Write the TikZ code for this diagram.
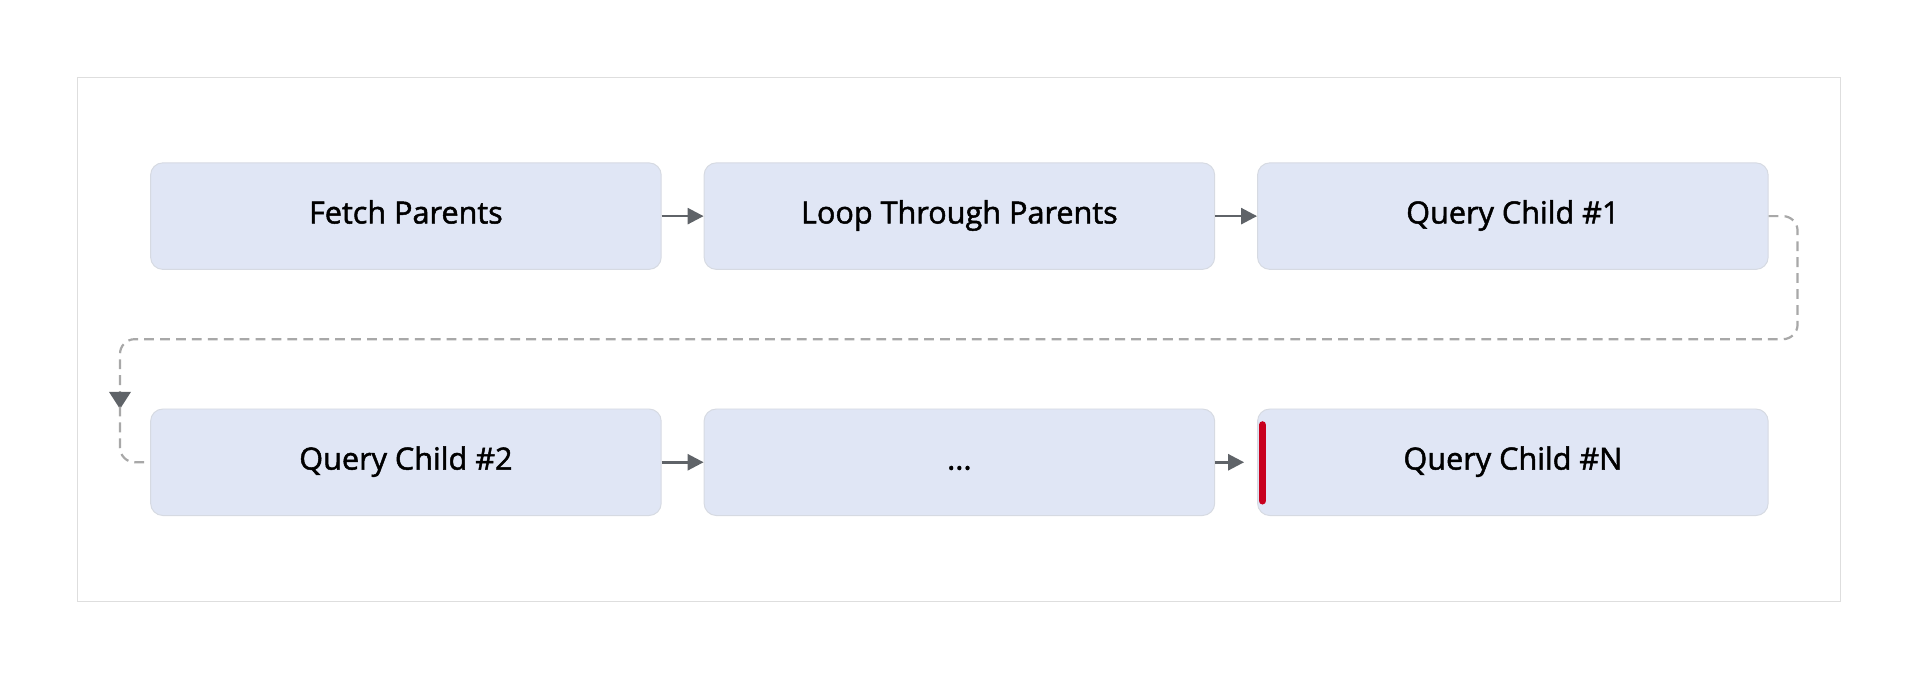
\documentclass[tikz,border=0pt]{standalone}
\usepackage{fontspec}
\setmainfont{Open Sans}[FakeBold=1.6]
\usetikzlibrary{arrows.meta}
\definecolor{boxfill}{HTML}{E0E6F5}
\definecolor{boxline}{HTML}{D6DAE2}
\definecolor{arr}{HTML}{5F6368}
\definecolor{dash}{HTML}{A8A8A8}
\definecolor{redbar}{HTML}{C8001E}
\begin{document}
\begin{tikzpicture}[x=1pt,y=-1pt,
  box/.style={draw=boxline,line width=0.8pt,fill=boxfill,rounded corners=10pt,minimum width=417pt,minimum height=87pt,font=\fontsize{25}{28}\selectfont,text=black,text height=17pt,text depth=5pt},
  link/.style={draw=arr,line width=2.2pt,-{Triangle[length=13pt,width=13pt]}},
  dlink/.style={draw=dash,line width=1.8pt,dash pattern=on 8pt off 5pt,rounded corners=12pt}]
\useasboundingbox (0,0) rectangle (1568,555.3);
\draw[draw=black!13,line width=1pt] (63,63) rectangle (1503,491);
\node[box] (a) at (331.5,176.5) {Fetch Parents};
\node[box] (b) at (783.5,176.5) {Loop Through Parents};
\node[box] (c) at (1235.5,176.5) {Query Child \#1};
\node[box] (d) at (331.5,377.5) {Query Child \#2};
\node[box] (e) at (783.5,377.5) {...};
\node[box] (f) at (1235.5,377.5) {Query Child \#N};
\draw[link] (a) -- (b);
\draw[link] (b) -- (c);
\draw[link] (d) -- (e);
\coordinate (fin) at (1016,377.5);
\draw[link] (e) -- (fin);
\draw[redbar,line width=6pt,line cap=round] (1031,347) -- (1031,409);
\draw[dlink] (c.east) -- (1468,176.5) -- (1468,277) -- (98,277) -- (98,320);
\fill[arr] (89,320) -- (107,320) -- (98,334) -- cycle;
\draw[dlink] (98,332) -- (98,377.5) -- (d.west);
\end{tikzpicture}
\end{document}
